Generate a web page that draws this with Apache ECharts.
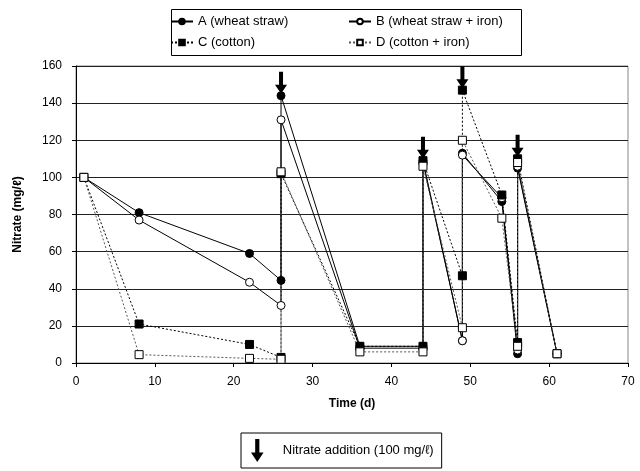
<!DOCTYPE html>
<html>
<head>
<meta charset="utf-8">
<script src="https://cdn.jsdelivr.net/npm/echarts@6/dist/echarts.min.js"></script>
<style>
html, body { margin: 0; padding: 0; background: #fff; }
#chart-container { width: 640px; height: 471px; }
</style>
</head>
<body>
<div id="chart-container"></div>
<script>
// values: [time (d), nitrate (mg/l)]
var seriesA = [[1, 100], [8, 81], [22, 59], [26, 44.5], [26, 144], [36, 9], [44, 9], [44, 109], [49, 12], [49, 113], [54, 87], [56, 5], [56, 105], [61, 5]];
var seriesB = [[1, 100], [8, 77], [22, 43.5], [26, 31], [26, 131], [36, 8], [44, 8], [44, 108], [49, 12], [49, 112], [54, 89], [56, 7], [56, 106], [61, 5]];
var seriesC = [[1, 100], [8, 21], [22, 10], [26, 3], [26, 102], [36, 9], [44, 9], [44, 109], [49, 47], [49, 147], [54, 90.5], [56, 11], [56, 110], [61, 5]];
var seriesD = [[1, 100], [8, 4.5], [22, 2.5], [26, 2], [26, 103], [36, 6], [44, 6], [44, 106], [49, 19], [49, 120], [54, 78], [56, 9], [56, 108], [61, 5]];

// nitrate additions: arrow sits just above the highest point after each addition
var additionTimes = [26, 44, 49, 56];
var additionTops = [144, 109, 147, 110];

var names = ['A (wheat straw)', 'B (wheat straw + iron)', 'C (cotton)', 'D (cotton + iron)'];
var additionName = 'Nitrate addition (100 mg/\u2113)';

var arrowPath = 'path://M4,0 L8,0 L8,13 L12,13 L6,22 L0,13 L4,13 Z';
var font = 'Liberation Sans, Arial, sans-serif';

var dom = document.getElementById('chart-container');
var myChart = echarts.init(dom, null, { renderer: 'canvas' });

function lineSeries(name, data, symbol, fill, lineType, lineColor) {
	return {
		name: name,
		type: 'line',
		data: data,
		symbol: symbol,
		symbolSize: 8,
		showAllSymbol: true,
		animation: false,
		clip: false,
		itemStyle: { color: fill, borderColor: '#000', borderWidth: 1, opacity: 1 },
		lineStyle: { color: lineColor, width: 1, type: lineType }
	};
}

// one column of the top key (the shared box is drawn as a graphic)
function keyColumn(items, left) {
	return {
		data: items,
		selectedMode: false,
		left: left,
		top: 15,
		orient: 'vertical',
		itemWidth: 22,
		itemHeight: 7,
		itemGap: 8,
		padding: 0,
		textStyle: { fontSize: 13, color: '#000', fontFamily: font }
	};
}

var option = {
	animation: false,
	textStyle: { fontFamily: font },
	grid: {
		left: 76,
		right: 12,
		top: 66,
		bottom: 108,
		show: true,
		borderColor: '#888',
		borderWidth: 1
	},
	graphic: [
		{
			type: 'rect',
			left: 169,
			top: 7,
			shape: { width: 350, height: 46 },
			style: { fill: null, stroke: '#000', lineWidth: 1 },
			silent: true
		}
	],
	legend: [
		keyColumn([names[0], names[2]], 170),
		keyColumn([names[1], names[3]], 348),
		{
			data: [{ name: additionName, icon: arrowPath }],
			selectedMode: false,
			left: 241,
			top: 433,
			itemWidth: 13,
			itemHeight: 23,
			padding: [6, 8, 6, 10],
			borderColor: '#000',
			borderWidth: 1,
			itemStyle: { color: '#000', opacity: 1 },
			textStyle: { fontSize: 13, color: '#000', padding: [0, 0, 0, 14], fontFamily: font }
		}
	],
	xAxis: {
		type: 'value',
		min: 0,
		max: 70,
		interval: 10,
		name: 'Time (d)',
		nameLocation: 'middle',
		nameGap: 35,
		nameTextStyle: { fontWeight: 'bold', fontSize: 12, color: '#000' },
		axisLine: { lineStyle: { color: '#000' } },
		axisTick: { show: true, length: 4, lineStyle: { color: '#000' } },
		axisLabel: { color: '#000', fontSize: 12, margin: 13 },
		splitLine: { show: false }
	},
	yAxis: {
		type: 'value',
		min: 0,
		max: 160,
		interval: 20,
		name: 'Nitrate (mg/\u2113)',
		nameLocation: 'middle',
		nameGap: 52,
		nameTextStyle: { fontWeight: 'bold', fontSize: 12, color: '#000' },
		axisLine: { show: true, lineStyle: { color: '#000' } },
		axisTick: { show: true, length: 4, lineStyle: { color: '#000' } },
		axisLabel: { color: '#000', fontSize: 12, margin: 14 },
		splitLine: { show: true, lineStyle: { color: '#222', width: 1 } }
	},
	series: [
		lineSeries(names[0], seriesA, 'circle', '#000', 'solid', '#000'),
		lineSeries(names[1], seriesB, 'circle', '#fff', 'solid', '#000'),
		lineSeries(names[2], seriesC, 'rect', '#000', [2, 2], '#000'),
		lineSeries(names[3], seriesD, 'rect', '#fff', [2, 2], '#555'),
		{
			name: additionName,
			type: 'scatter',
			data: additionTimes.map((t, i) => [t, additionTops[i]]),
			symbol: arrowPath,
			symbolSize: [12, 22],
			symbolOffset: [0, -13],
			clip: false,
			z: 5,
			itemStyle: { color: '#000', opacity: 1 }
		}
	]
};

myChart.setOption(option);
window.addEventListener('resize', myChart.resize);
</script>
</body>
</html>
